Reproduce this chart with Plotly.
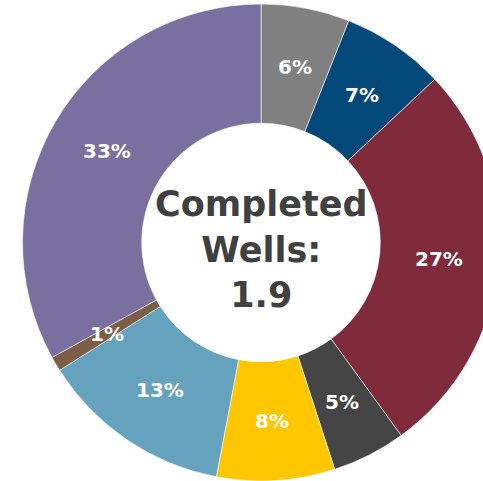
import math
import plotly.graph_objects as go

# Share of completed wells by group, listed clockwise from 12 o'clock
groups = ["Group A", "Group B", "Group C", "Group D", "Group E", "Group F", "Group G", "Group H"]
shares = [6, 7, 27, 5, 8, 13, 1, 33]
colors = ["#808080", "#02497A", "#7F2B3B", "#454545", "#FFC700", "#64A2BD", "#7C5D46", "#79709F"]
center_lines = ["Completed", "Wells:", "1.9"]

W, H = 500, 481
M_TOP = 4
HOLE = 0.5
DOMAIN_X = [0.045, 0.999]

fig = go.Figure(
    go.Pie(
        labels=groups,
        values=shares,
        hole=HOLE,
        sort=False,
        direction="clockwise",
        rotation=0,
        marker=dict(colors=colors, line=dict(color="#FFFFFF", width=0.6)),
        textinfo="none",
        showlegend=False,
        domain=dict(x=DOMAIN_X, y=[0, 1]),
    )
)

# Percentage labels sit half way across the ring, at each slice's mid-angle
plot_h = H - M_TOP
r_out = plot_h / 2
r_mid = r_out * (1 + HOLE) / 2
cx = (DOMAIN_X[0] + DOMAIN_X[1]) / 2 * W
cy = M_TOP + r_out
total = sum(shares)
cum = 0
for v in shares:
    theta = 2 * math.pi * (cum + v / 2) / total
    cum += v
    px = cx + r_mid * math.sin(theta)
    py = cy - r_mid * math.cos(theta)
    fig.add_annotation(
        text=f"{v}%",
        x=px / W, y=(H - py) / plot_h, xref="paper", yref="paper",
        xanchor="center", yanchor="middle",
        showarrow=False,
        font=dict(family="DejaVu Sans", size=20, color="#FFFFFF", weight="bold"),
    )

fig.add_annotation(
    text="<br>".join(center_lines),
    x=cx / W, y=0.5, xref="paper", yref="paper",
    xanchor="center", yanchor="middle",
    showarrow=False, yshift=-7,
    font=dict(family="DejaVu Sans", size=35, color="#404040", weight="bold"),
)

fig.update_layout(
    width=W, height=H,
    margin=dict(l=0, r=0, t=M_TOP, b=0),
    paper_bgcolor="#FFFFFF",
    plot_bgcolor="#FFFFFF",
)

fig.write_html(
    "out.html",
    post_script="document.documentElement.style.overflow='hidden';document.body.style.overflow='hidden';",
)
